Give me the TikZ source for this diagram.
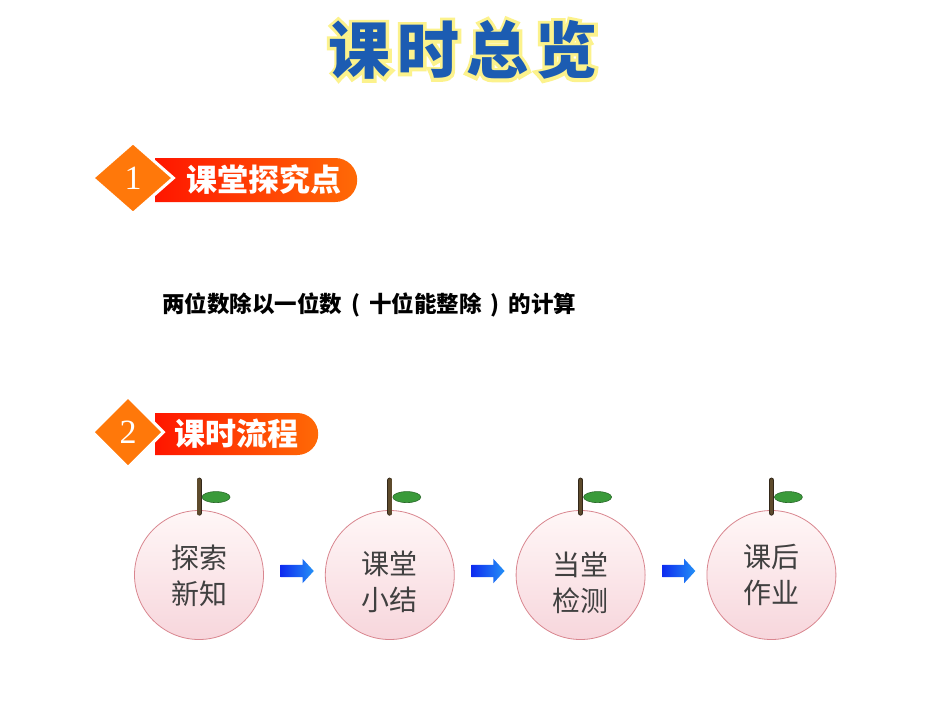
\documentclass[tikz,border=0pt]{standalone}
\usepackage{fontspec}
\setmainfont{Noto Sans CJK SC}
\newfontfamily\numfont{Liberation Serif}
\newfontfamily\glowfont[FakeBold=12]{Noto Sans CJK SC Bold}
\usepackage{tikz}
\usetikzlibrary{shapes,calc,positioning}

\definecolor{titleblue}{HTML}{1C5CB2}
\definecolor{titleglow}{HTML}{FCF28C}
\definecolor{dmdorange}{HTML}{FF780A}
\definecolor{barred}{HTML}{FF1600}
\definecolor{barorange}{HTML}{FF6A06}
\definecolor{applehi}{HTML}{FFF7F7}
\definecolor{applelo}{HTML}{F7D6DC}
\definecolor{appleedge}{HTML}{D9868F}
\definecolor{stembrown}{HTML}{5E4B2C}
\definecolor{stemedge}{HTML}{33281A}
\definecolor{leafgreen}{HTML}{3A9A3A}
\definecolor{leafedge}{HTML}{2A6A2A}
\definecolor{arrowdark}{HTML}{0E2CF0}
\definecolor{arrowlight}{HTML}{2490F6}
\definecolor{applefont}{HTML}{404040}

\newcommand{\titlechars}{课\hspace{7pt}时\hspace{7pt}总\hspace{7pt}览}

\begin{document}
\begin{tikzpicture}[x=1pt, y=-1pt,
    dmd/.style={diamond, fill=dmdorange, draw=white, line width=3pt, inner sep=0,
      text=white, font=\numfont\fontsize{34}{34}\selectfont},
    bar/.style={rounded rectangle, rounded rectangle left arc=none, inner sep=0,
      left color=barred, right color=barorange, text=white,
      font=\bfseries\fontsize{31}{31}\selectfont},
    apple/.style={circle, minimum size=129pt, inner sep=0, draw=appleedge,
      line width=0.8pt, top color=applehi, bottom color=applelo},
    applelabel/.style={align=center, text=applefont, inner sep=0,
      font=\fontsize{28}{36}\selectfont},
    stem/.style={draw=stemedge, line width=0.7pt, double=stembrown,
      double distance=3.6pt, line cap=round},
    leaf/.style={fill=leafgreen, draw=leafedge, line width=0.6pt},
    flowarrow/.style={single arrow, minimum height=33pt, inner xsep=0, inner ysep=6pt,
      single arrow head extend=6pt, single arrow tip angle=95,
      left color=arrowdark, right color=arrowlight}]
  \useasboundingbox (0,0) rectangle (950,713);
  \fill[white] (0,0) rectangle (950,713);

  % heading
  \node[font=\glowfont\fontsize{62}{62}\selectfont, text=titleglow, inner sep=0] (glow)
    at (463,50) {\titlechars};
  \node[font=\bfseries\fontsize{62}{62}\selectfont, text=titleblue, inner sep=0] (title)
    at (glow) {\titlechars};

  % part 1
  \node[bar, anchor=west, minimum width=202pt, minimum height=44pt] (bar1) at (155,180)
    {\hspace{21pt}课堂探究点};
  \node[dmd, minimum width=82pt, minimum height=72pt] (dmd1) at (133,178) {1};
  \node[anchor=west, inner sep=0, font=\bfseries\fontsize{22.5}{22.5}\selectfont] (topic)
    at (162,305) {两位数除以一位数\hspace{9pt}(\hspace{9pt}十位能整除\hspace{9pt})\hspace{9pt}的计算};

  % part 2
  \node[bar, anchor=west, minimum width=163pt, minimum height=42pt] (bar2) at (155,434)
    {\hspace{6pt}课时流程};
  \node[dmd, minimum width=72pt, minimum height=72pt] (dmd2) at (128,432) {2};

  % apples
  \node[apple] (apple1) at (199,575) {};
  \node[apple, right=61pt of apple1] (apple2) {};
  \node[apple, right=61pt of apple2] (apple3) {};
  \node[apple, right=61pt of apple3] (apple4) {};

  \foreach \i in {1,...,4} {
    \draw[stem] ($(apple\i.north)+(0,3)$) -- ($(apple\i.north)+(0,-30)$);
    \draw[leaf] ($(apple\i.north)+(17,-13)$) ellipse [x radius=14, y radius=5.5];
  }

  \node[applelabel] (lab1) at ($(apple1)+(0,1)$) {探索\\新知};
  \node[applelabel] (lab2) at ($(apple2)+(0,7)$) {课堂\\小结};
  \node[applelabel] (lab3) at ($(apple3)+(0,8)$) {当堂\\检测};
  \node[applelabel] (lab4) at ($(apple4)+(0,0)$) {课后\\作业};

  \node[flowarrow] (arr1) at ($(apple1.east)!0.5!(apple2.west)+(0,-4)$) {};
  \node[flowarrow] (arr2) at ($(apple2.east)!0.5!(apple3.west)+(0,-4)$) {};
  \node[flowarrow] (arr3) at ($(apple3.east)!0.5!(apple4.west)+(0,-4)$) {};
\end{tikzpicture}
\end{document}
